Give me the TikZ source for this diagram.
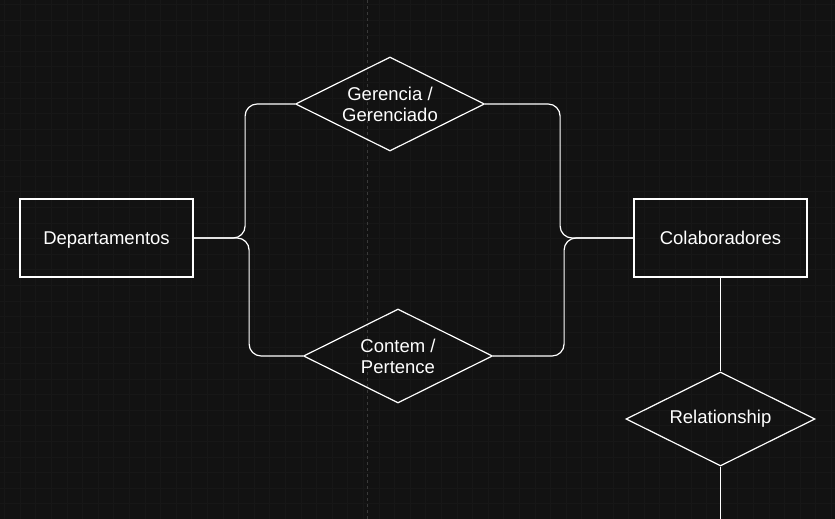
\documentclass[tikz,border=0pt]{standalone}
\usepackage{fontspec}
\setmainfont{Liberation Sans}
\usepackage{xcolor}
\usetikzlibrary{shapes.geometric}
\definecolor{bgdark}{HTML}{121212}
\definecolor{gridfaint}{HTML}{171717}
\definecolor{guidegray}{HTML}{3A3A3A}

\begin{document}
\begin{tikzpicture}[x=1pt, y=-1pt,
  entity/.style={draw=white, line width=1.2pt, minimum width=173pt, minimum height=78pt,
    inner sep=0pt, text height=16pt, text depth=2.5pt,
    font=\fontsize{18.5}{21}\selectfont, text=white},
  relation/.style={diamond, aspect=2, draw=white, line width=1.2pt, minimum width=189pt,
    minimum height=94pt, inner sep=0pt, align=center,
    font=\fontsize{18.5}{21}\selectfont, text=white},
  conn/.style={draw=white, line width=1.2pt, rounded corners=12pt}]
\fill[bgdark] (0,0) rectangle (835,519);
\useasboundingbox (0,0) rectangle (835,519);
% faint background grid
\foreach \k in {0,...,53} {
  \draw[gridfaint, line width=0.6pt] (4.4+15.6*\k,0) -- (4.4+15.6*\k,519);
}
\foreach \k in {0,...,33} {
  \draw[gridfaint, line width=0.6pt] (0,4.4+15.6*\k) -- (835,4.4+15.6*\k);
}
\draw[guidegray, line width=0.8pt, dash pattern=on 3pt off 3pt] (367,0) -- (367,519);
% entities and relationships
\node[entity] (dep) at (106.5,238) {Departamentos};
\node[entity] (col) at (720.5,238) {Colaboradores};
\node[relation] (ger) at (390,104) {Gerencia /\\Gerenciado};
\node[relation] (con) at (398,356) {Contem /\\Pertence};
\node[relation] (rel) at (720.5,419) {Relationship};
\coordinate (relend) at (720.5,519);
% connectors
\draw[conn] (dep.east) -- ++(51.5,0) |- (ger.west);
\draw[conn] (dep.east) -- ++(55.5,0) |- (con.west);
\draw[conn] (ger.east) -- ++(75,0) |- (col.west);
\draw[conn] (con.east) -- ++(71,0) |- (col.west);
\draw[conn] (col.south) -- (rel.north);
\draw[conn] (rel.south) -- (relend);
\end{tikzpicture}
\end{document}
